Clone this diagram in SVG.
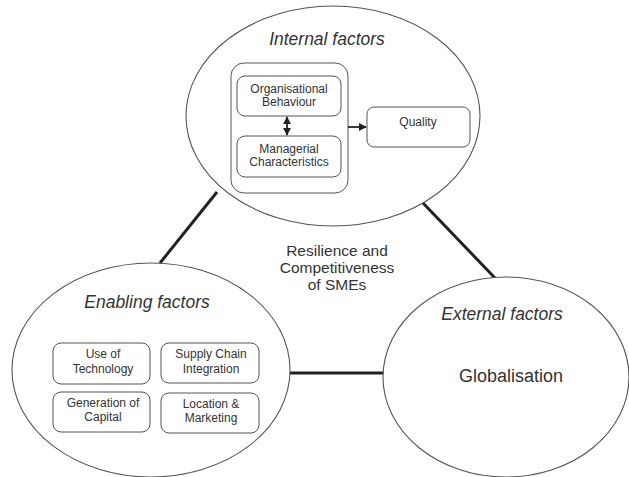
<svg xmlns="http://www.w3.org/2000/svg" width="629" height="477" viewBox="0 0 629 477">
<defs>
<marker id="ah" viewBox="0 0 10 10" refX="9" refY="5" markerWidth="8" markerHeight="8" orient="auto-start-reverse" markerUnits="userSpaceOnUse">
<path d="M0,0 L10,5 L0,10 z" fill="#222"/>
</marker>
<style>
.ell{fill:#fff;stroke:#555;stroke-width:1.1}
.box{fill:#fff;stroke:#555;stroke-width:1}
.t{font-family:"Liberation Sans",Arial,sans-serif;fill:#333;text-anchor:middle}
.title{font-size:17.5px;font-style:italic}
.s{font-size:12px}
.big{font-size:18px}
.mid{font-size:15.5px}
.link{stroke:#222;stroke-width:3;fill:none}
.arr{stroke:#222;stroke-width:1.8;fill:none}
</style>
</defs>
<rect width="629" height="477" fill="#fff"/>
<g id="connectors">
<line class="link" x1="217" y1="192" x2="160" y2="263"/>
<line class="link" x1="423" y1="203" x2="495" y2="278"/>
<line class="link" x1="290" y1="373" x2="384" y2="373"/>
</g>
<g id="internal">
<ellipse class="ell" cx="333" cy="116" rx="147" ry="110"/>
<text class="t title" x="327" y="45">Internal factors</text>
<rect class="box" x="231" y="63" width="117" height="130" rx="13"/>
<g id="org">
<rect class="box" x="237" y="76" width="104" height="40" rx="8"/>
<text class="t s" x="289" y="93">Organisational</text>
<text class="t s" x="289" y="106">Behaviour</text>
</g>
<g id="mgr">
<rect class="box" x="237" y="136" width="104" height="41" rx="8"/>
<text class="t s" x="289" y="153">Managerial</text>
<text class="t s" x="289" y="166">Characteristics</text>
</g>
<g id="quality">
<rect class="box" x="367" y="107" width="103" height="40" rx="7"/>
<text class="t s" x="418" y="126">Quality</text>
</g>
<line class="arr" x1="287" y1="117" x2="287" y2="135" marker-start="url(#ah)" marker-end="url(#ah)"/>
<line class="arr" x1="348" y1="127" x2="366" y2="127" marker-end="url(#ah)"/>
</g>
<g id="center">
<text class="t mid" x="337" y="256">Resilience and</text>
<text class="t mid" x="337" y="273">Competitiveness</text>
<text class="t mid" x="337" y="290">of SMEs</text>
</g>
<g id="enabling">
<ellipse class="ell" cx="151" cy="370" rx="139" ry="107"/>
<text class="t title" x="147" y="308">Enabling factors</text>
<g id="tech">
<rect class="box" x="53" y="343" width="97" height="41" rx="8"/>
<text class="t s" x="103" y="358">Use of</text>
<text class="t s" x="103" y="373">Technology</text>
</g>
<g id="supply">
<rect class="box" x="161" y="343" width="98" height="40" rx="8"/>
<text class="t s" x="211" y="358">Supply Chain</text>
<text class="t s" x="211" y="373">Integration</text>
</g>
<g id="capital">
<rect class="box" x="53" y="392" width="97" height="40" rx="8"/>
<text class="t s" x="103" y="407">Generation of</text>
<text class="t s" x="103" y="421">Capital</text>
</g>
<g id="location">
<rect class="box" x="161" y="393" width="98" height="40" rx="8"/>
<text class="t s" x="211" y="408">Location &amp;</text>
<text class="t s" x="211" y="422">Marketing</text>
</g>
</g>
<g id="external">
<ellipse class="ell" cx="506" cy="377" rx="123" ry="100"/>
<text class="t title" x="502" y="320">External factors</text>
<text class="t big" x="511" y="382">Globalisation</text>
</g>
</svg>
